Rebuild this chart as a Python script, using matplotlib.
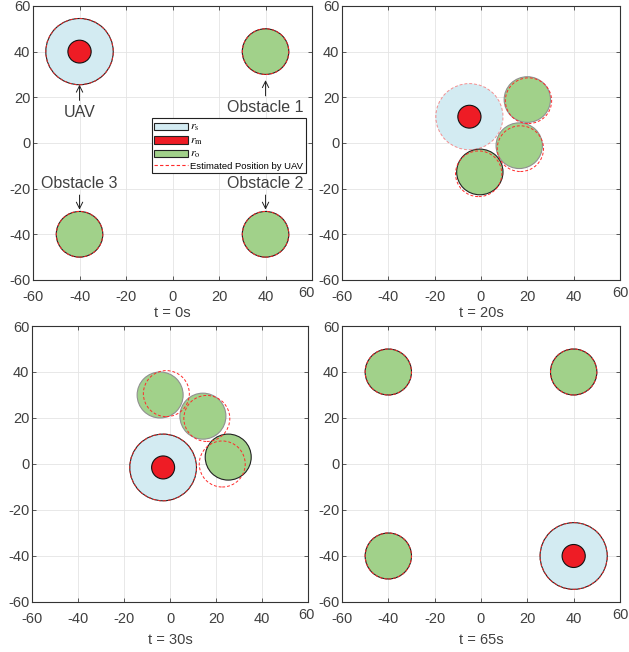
import matplotlib
matplotlib.use("Agg")
import matplotlib.pyplot as plt
from matplotlib.patches import Circle, Patch
from matplotlib.lines import Line2D

plt.rcParams['font.family'] = ['Liberation Sans', 'DejaVu Sans']
plt.rcParams['mathtext.fontset'] = 'stix'

# radii
r_s = 14.5
r_m = 5
r_o = 10

times = [0, 20, 30, 65]
uav_x = [-40, -5, -3, 40]
uav_y = [40, 11.5, -1.5, -40]

# true obstacle positions per snapshot
obs_x = [[40, 40, -40], [20, 16.5, -0.5], [-4.3, 14.3, 25.3], [40, -40, -40]]
obs_y = [[40, -40, -40], [19, -1.2, -12.7], [30, 20.8, 3.0], [40, 40, -40]]
# estimated obstacle positions by UAV
est_x = [[40, 40, -40], [20.5, 17, -1], [-1.6, 16, 22.7], [40, -40, -40]]
est_y = [[40, -40, -40], [18.5, -2.5, -13.5], [30.6, 19.8, 0.0], [40, 40, -40]]
# which obstacle is drawn with a dark outline
obs_dark = [[1, 1, 1], [0, 0, 1], [0, 0, 1], [1, 1, 1]]
uav_dark = [1, 0, 1, 1]

obs_labels = ['Obstacle 1', 'Obstacle 2', 'Obstacle 3']

c_s = '#d3ebf2'
c_m = '#ee1c25'
c_o = '#a1d18a'
c_est = '#ff2a2a'
c_txt = '#404040'

positions = [
    [0.0525, 0.5706, 0.4436, 0.4203],
    [0.5437, 0.5706, 0.4420, 0.4203],
    [0.0509, 0.0767, 0.4388, 0.4233],
    [0.5437, 0.0767, 0.4420, 0.4233],
]
sixty_shift = [-6, 0, -2, 0]

fig = plt.figure(figsize=(6.29, 6.52), dpi=100)

for k in range(4):
    ax = fig.add_axes(positions[k])
    ax.set_xlim(-60, 60)
    ax.set_ylim(-60, 60)
    ticks = [-60, -40, -20, 0, 20, 40, 60]
    ax.set_xticks(ticks)
    ax.set_yticks(ticks)
    ax.set_xticklabels([str(t) for t in ticks[:-1]] + [''])
    ax.set_yticklabels([str(t) for t in ticks])
    # matlab draws the last x label a bit higher
    ax.annotate('60', xy=(1, 0), xycoords='axes fraction',
                xytext=(sixty_shift[k], -6), textcoords='offset pixels',
                fontsize=10.5, color=c_txt, ha='center', va='top')
    ax.tick_params(direction='in', length=3, width=0.6, colors=c_txt,
                   labelsize=10.5, top=True, right=True)
    ax.tick_params(axis='x', pad=7)
    ax.tick_params(axis='y', pad=2)
    ax.grid(True, color='#e4e4e4', lw=0.6)
    ax.set_axisbelow(True)
    for sp in ax.spines.values():
        sp.set_color('#333333')
        sp.set_linewidth(0.8)
    ax.set_xlabel('t = %ds' % times[k], fontsize=10.5, color=c_txt,
                  labelpad=2 if k < 2 else 5)

    # UAV
    ax.add_patch(Circle((uav_x[k], uav_y[k]), r_s, facecolor=c_s,
                        edgecolor='#222222' if uav_dark[k] else 'none', lw=0.8, zorder=2))
    ax.add_patch(Circle((uav_x[k], uav_y[k]), r_s, fill=False, edgecolor=c_est,
                        ls=(0, (3, 2)), lw=0.7, alpha=0.9 if uav_dark[k] else 0.5, zorder=6))
    ax.add_patch(Circle((uav_x[k], uav_y[k]), r_m, facecolor=c_m,
                        edgecolor='#111111', lw=0.8, zorder=3))

    # obstacles
    for j in range(3):
        ax.add_patch(Circle((obs_x[k][j], obs_y[k][j]), r_o, facecolor=c_o,
                            edgecolor='#222222' if obs_dark[k][j] else '#909090',
                            lw=0.8, zorder=2))
        ax.add_patch(Circle((est_x[k][j], est_y[k][j]), r_o, fill=False, edgecolor=c_est,
                            ls=(0, (3, 2)), lw=0.7, zorder=5))

    if k == 0:
        arr = dict(arrowstyle='->', lw=0.7, color='#222222', shrinkA=1, shrinkB=0)
        ax.annotate('UAV', xy=(uav_x[0], uav_y[0] - r_s), xytext=(uav_x[0], 13.5),
                    ha='center', va='center', fontsize=11.5, color=c_txt, arrowprops=arr)
        ax.annotate(obs_labels[0], xy=(obs_x[0][0], obs_y[0][0] - r_o - 2.5),
                    xytext=(obs_x[0][0], 15.5), ha='center', va='center',
                    fontsize=11.5, color=c_txt, arrowprops=arr)
        ax.annotate(obs_labels[1], xy=(obs_x[0][1], obs_y[0][1] + r_o + 0.8),
                    xytext=(obs_x[0][1], -17.7), ha='center', va='center',
                    fontsize=11.5, color=c_txt, arrowprops=arr)
        ax.annotate(obs_labels[2], xy=(obs_x[0][2], obs_y[0][2] + r_o + 0.8),
                    xytext=(obs_x[0][2], -17.7), ha='center', va='center',
                    fontsize=11.5, color=c_txt, arrowprops=arr)

        handles = [Patch(facecolor=c_s, edgecolor='#222222', lw=0.8),
                   Patch(facecolor=c_m, edgecolor='#222222', lw=0.8),
                   Patch(facecolor=c_o, edgecolor='#222222', lw=0.8),
                   Line2D([], [], color=c_est, ls=(0, (3, 2)), lw=0.8)]
        labels = [r'$r_\mathrm{s}$', r'$r_\mathrm{m}$', r'$r_\mathrm{o}$',
                  'Estimated Position by UAV']
        leg = ax.legend(handles, labels, loc='upper left', bbox_to_anchor=(0.4265, 0.59),
                        fontsize=6.8, frameon=True, fancybox=False, framealpha=1,
                        edgecolor='#222222', borderpad=0.25, labelspacing=0.12,
                        handlelength=3.6, handleheight=0.85, handletextpad=0.2,
                        borderaxespad=0)
        leg.get_frame().set_linewidth(0.8)
        for t in leg.get_texts()[:3]:
            t.set_fontsize(8.5)

fig.savefig('out.png', dpi=100)
